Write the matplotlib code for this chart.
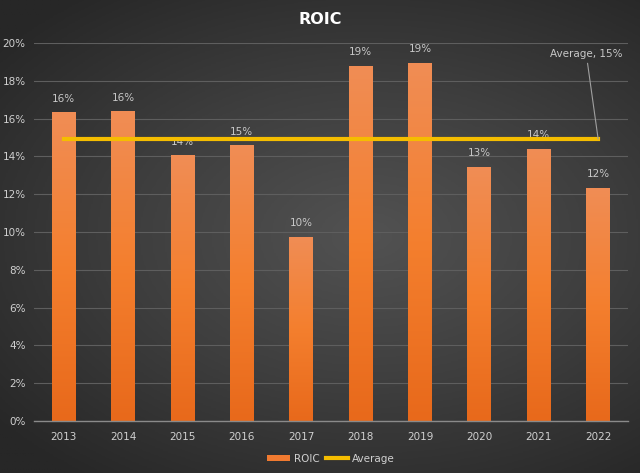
import numpy as np
import matplotlib.pyplot as plt
from matplotlib.colors import LinearSegmentedColormap
from matplotlib.patches import Rectangle

years = ['2013', '2014', '2015', '2016', '2017', '2018', '2019', '2020', '2021', '2022']
roic = [16.35, 16.4, 14.07, 14.6, 9.74, 18.8, 18.95, 13.44, 14.4, 12.33]
average = 14.92
yticks = [0, 2, 4, 6, 8, 10, 12, 14, 16, 18, 20]

fig = plt.figure(figsize=(6.4, 4.73), dpi=100)

# radial dark background, a bit brighter toward the centre
bg = fig.add_axes([0, 0, 1, 1])
yy, xx = np.mgrid[-1:1:300j, -1:1:400j]
r = np.sqrt(((xx - 0.15) * 0.9) ** 2 + (yy * 1.05) ** 2)
bg_cmap = LinearSegmentedColormap.from_list('bg', ['#525252', '#3e3e3e', '#272727'])
bg.imshow(r, cmap=bg_cmap, aspect='auto', extent=[0, 1, 0, 1], vmin=0, vmax=1.35)
bg.set_axis_off()

ax = fig.add_axes([0.053, 0.110, 0.928, 0.799])
ax.patch.set_alpha(0)
x = np.arange(len(years))
w = 0.40

bar_cmap = LinearSegmentedColormap.from_list('bar', ['#e8691b', '#f47f2e', '#f08d55'])
grad = np.linspace(0, 1, 256).reshape(-1, 1)
bars = ax.bar(x, roic, width=w, color='none', zorder=2)
for b in bars:
    bx, bw, bh = b.get_x(), b.get_width(), b.get_height()
    im = ax.imshow(grad, cmap=bar_cmap, aspect='auto', origin='lower',
                   extent=[bx, bx + bw, 0, bh], zorder=2)
    im.set_clip_path(Rectangle((bx, 0), bw, bh, transform=ax.transData))

roic_handle = ax.bar([0], [0], color='#f07a30', label='ROIC')

for xi, v in zip(x, roic):
    ax.text(xi, v + 0.45, f'{round(v):.0f}%', ha='center', va='bottom',
            color='#c8c8c8', fontsize=7.5)

avg_line, = ax.plot([x[0], x[-1]], [average, average], color='#f5bd00', lw=3,
                    zorder=3, label='Average')

ax.annotate(f'Average, {round(average):.0f}%', xy=(x[-1], average),
            xytext=(x[-1] - 0.2, 19.15), ha='center', va='bottom',
            color='#c8c8c8', fontsize=7.5,
            arrowprops=dict(arrowstyle='-', color='#a0a0a0', lw=0.8,
                            shrinkA=1, shrinkB=0))

ax.set_xlim(-0.5, len(years) - 0.5)
ax.set_ylim(0, 20)
ax.set_yticks(yticks)
ax.set_yticklabels([f'{t}%' for t in yticks])
ax.set_xticks(x)
ax.set_xticklabels(years)
ax.tick_params(colors='#d0d0d0', labelsize=7.5, length=0)
ax.tick_params(axis='x', pad=8)
ax.tick_params(axis='y', pad=6)
ax.grid(axis='y', color='#5e5e5e', lw=0.8, zorder=0)
ax.set_axisbelow(True)
for s in ['top', 'right', 'left']:
    ax.spines[s].set_visible(False)
ax.spines['bottom'].set_color('#8a8a8a')
ax.spines['bottom'].set_linewidth(1)

fig.text(0.5, 0.958, 'ROIC', ha='center', va='center', color='white',
         fontsize=11.5, fontweight='bold')

ax.legend(handles=[roic_handle, avg_line], loc='upper center',
          bbox_to_anchor=(0.5, -0.062), ncol=2, frameon=False,
          fontsize=7.5, labelcolor='#d0d0d0', handlelength=2.2, handleheight=0.6,
          columnspacing=0.6, handletextpad=0.3)

plt.savefig('out.png', dpi=100)
